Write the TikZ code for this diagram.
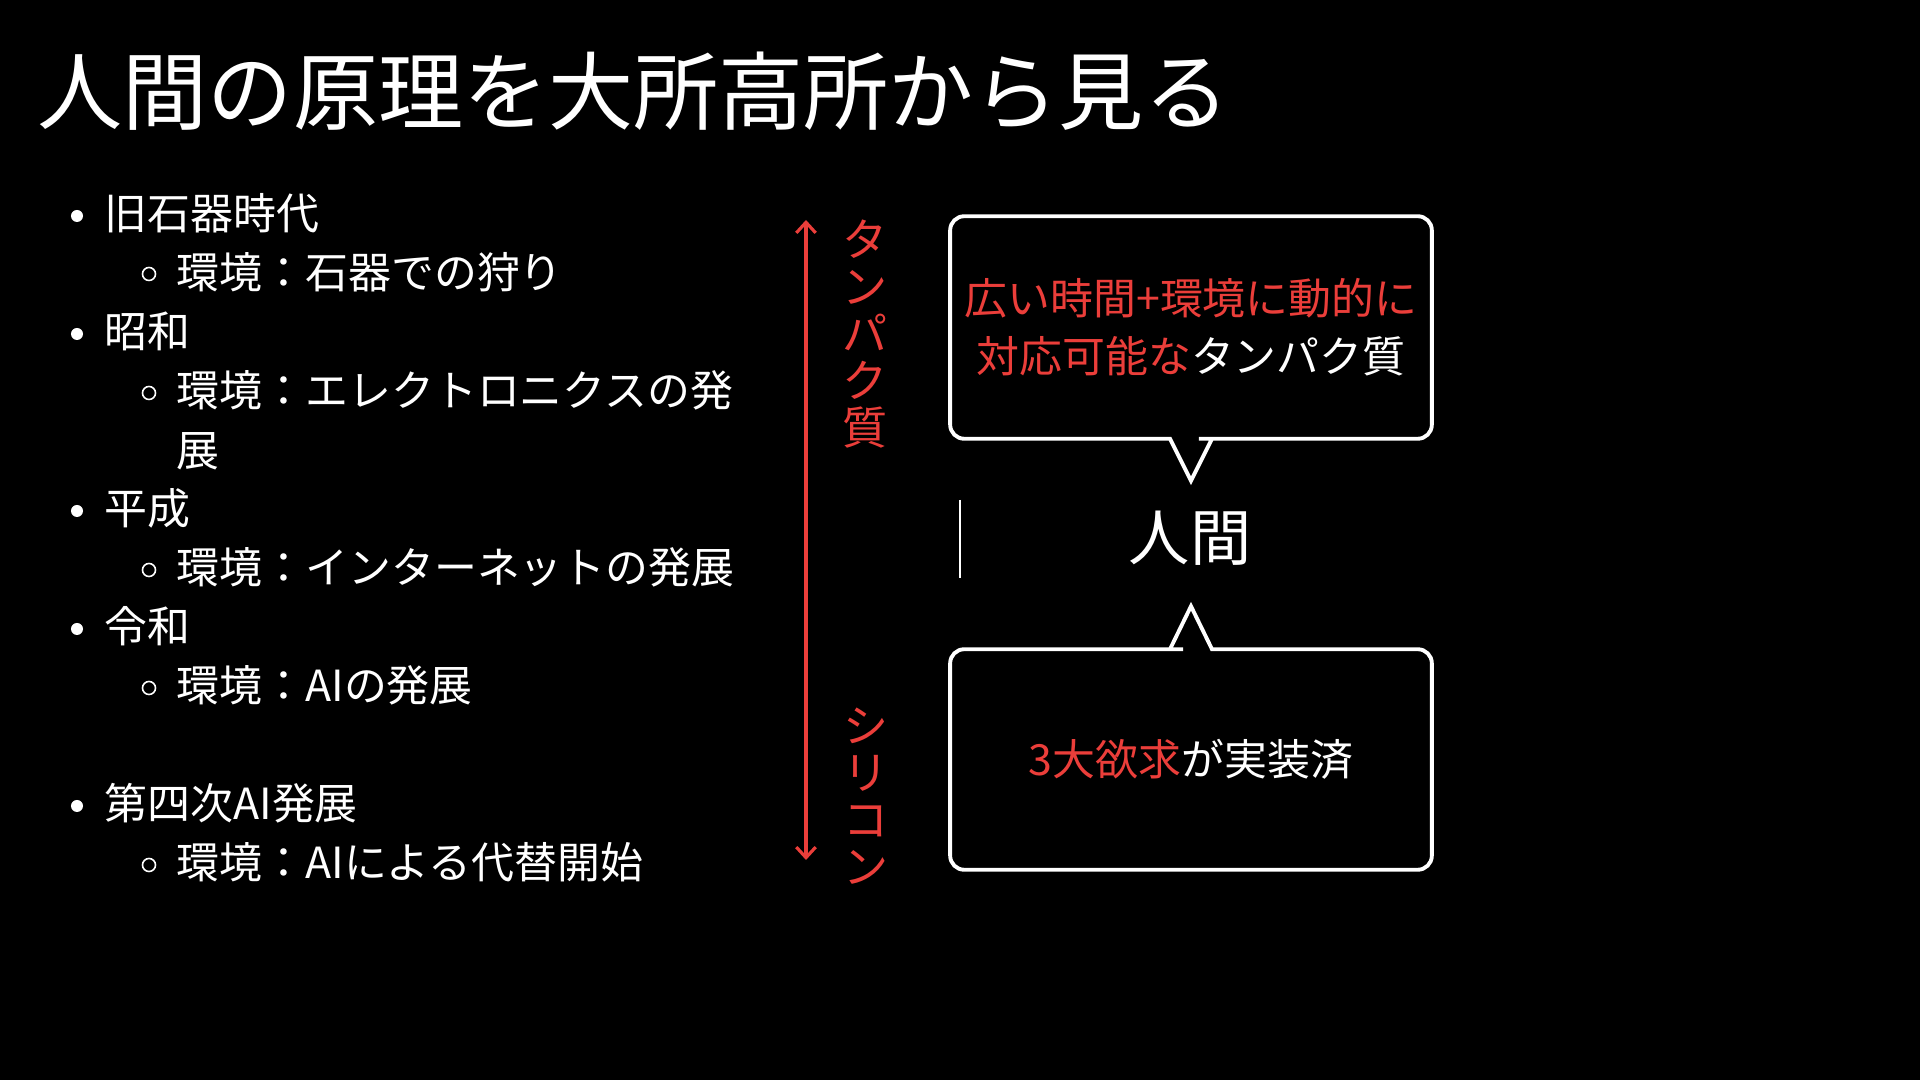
\documentclass[tikz,border=0pt]{standalone}
\usepackage{fontspec}
\setmainfont{Noto Sans CJK JP}
\usepackage{xcolor}
\usepackage{tikz}
\usetikzlibrary{arrows.meta,calc,positioning}
\definecolor{accent}{RGB}{235,62,58}
\newcommand{\titlesize}{\fontsize{24.2pt}{29pt}\selectfont}
\newcommand{\bodysize}{\fontsize{12.2pt}{16.5pt}\selectfont}
\newcommand{\humansize}{\fontsize{17.4pt}{21pt}\selectfont}
\newcommand{\stacksize}{\fontsize{12.8pt}{13.4pt}\selectfont}
\tikzset{
  listitem/.style={anchor=base west, inner sep=0pt, text=white, font=\bodysize},
  dotmark/.style={circle, fill=white, inner sep=0pt, minimum size=0.12cm},
  ringmark/.style={circle, draw=white, line width=0.45pt, inner sep=0pt, minimum size=0.13cm},
  boxtext/.style={inner sep=0pt, text=white, font=\bodysize, align=center},
  calloutline/.style={draw=white, line width=1.1pt},
  spanarrow/.style={{Straight Barb[length=3pt,width=5.5pt]}-{Straight Barb[length=3pt,width=5.5pt]}, draw=accent, line width=0.9pt},
  stacklabel/.style={inner sep=0pt, text=accent, font=\stacksize, align=center}
}

\begin{document}
\begin{tikzpicture}[x=0.01cm,y=-0.01cm]
  \fill[black] (0,0) rectangle (1920,1080);
  \useasboundingbox (0,0) rectangle (1920,1080);

  \node[anchor=base west, inner sep=0pt, text=white, font=\titlesize] (title) at (37,124) {人間の原理を大所高所から見る};

  % list on the left
  \node[dotmark] (d1) at (77,216) {};
  \node[listitem] (era1) at (104,230) {旧石器時代};
  \node[ringmark] (r1) at (149,274) {};
  \node[listitem] (env1) at (176,289) {環境：石器での狩り};
  \node[dotmark] (d2) at (77,334) {};
  \node[listitem] (era2) at (104,348) {昭和};
  \node[ringmark] (r2) at (149,393) {};
  \node[listitem] (env2) at (176,407) {環境：エレクトロニクスの発};
  \node[listitem] (env2b) at (176,467) {展};
  \node[dotmark] (d3) at (77,511) {};
  \node[listitem] (era3) at (104,525) {平成};
  \node[ringmark] (r3) at (149,570) {};
  \node[listitem] (env3) at (176,584) {環境：インターネットの発展};
  \node[dotmark] (d4) at (77,629) {};
  \node[listitem] (era4) at (104,643) {令和};
  \node[ringmark] (r4) at (149,688) {};
  \node[listitem] (env4) at (176,702) {環境：AIの発展};
  \node[dotmark] (d5) at (77,806) {};
  \node[listitem] (era5) at (104,820) {第四次AI発展};
  \node[ringmark] (r5) at (149,865) {};
  \node[listitem] (env5) at (176,879) {環境：AIによる代替開始};

  % span between protein and silicon
  \coordinate (spantop) at (806,220);
  \coordinate (spanbot) at (806,860);
  \draw[spanarrow] (spantop) -- (spanbot);
  \node[stacklabel] (protlabel) at (865,334) {タ\\ン\\パ\\ク\\質};
  \node[stacklabel] (sililabel) at (866,796) {シ\\リ\\コ\\ン};

  % callouts
  \node[boxtext, minimum width=4.8cm, minimum height=2.21cm] (protbox) at (1191,327.5)
    {\textcolor{accent}{広い時間+環境に動的に}\\\textcolor{accent}{対応可能な}タンパク質};
  \draw[calloutline] (protbox.north) [rounded corners=4pt] -- (protbox.north east)
    -- (protbox.south east) -- ($(protbox.south)+(22,0)$) [sharp corners]
    -- ($(protbox.south)+(21,0)$) -- ($(protbox.south)+(0,42)$) -- ($(protbox.south)+(-21,0)$)
    -- ($(protbox.south)+(-22,0)$) [rounded corners=4pt] -- (protbox.south west)
    -- (protbox.north west) -- cycle;

  \node[anchor=base, inner sep=0pt, text=white, font=\humansize] (human) at (1190,561) {人間};
  \coordinate (carettop) at (960,500);
  \coordinate (caretbot) at (960,578);
  \draw[white, line width=0.55pt] (carettop) -- (caretbot);

  \node[boxtext, minimum width=4.8cm, minimum height=2.19cm] (silibox) at (1191,759.5)
    {\textcolor{accent}{3大欲求}が実装済};
  \draw[calloutline] (silibox.south) [rounded corners=4pt] -- (silibox.south west)
    -- (silibox.north west) -- ($(silibox.north)+(-22,0)$) [sharp corners]
    -- ($(silibox.north)+(-21,0)$) -- ($(silibox.north)+(0,-43)$) -- ($(silibox.north)+(21,0)$)
    -- ($(silibox.north)+(22,0)$) [rounded corners=4pt] -- (silibox.north east)
    -- (silibox.south east) -- cycle;
\end{tikzpicture}
\end{document}
